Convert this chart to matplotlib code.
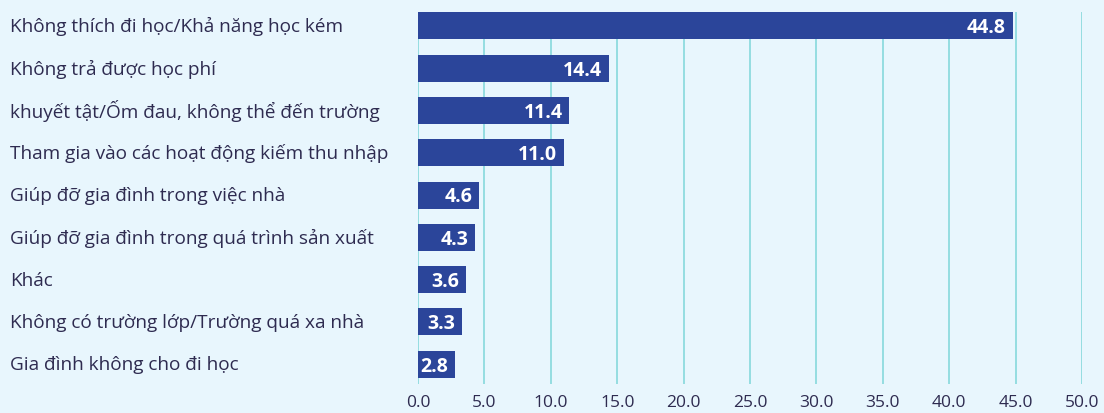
import matplotlib.pyplot as plt
import matplotlib.transforms as mtransforms

# data
categories = [
    "Không thích đi học/Khả năng học kém",
    "Không trả được học phí",
    "khuyết tật/Ốm đau, không thể đến trường",
    "Tham gia vào các hoạt động kiếm thu nhập",
    "Giúp đỡ gia đình trong việc nhà",
    "Giúp đỡ gia đình trong quá trình sản xuất",
    "Khác",
    "Không có trường lớp/Trường quá xa nhà",
    "Gia đình không cho đi học",
]
values = [44.8, 14.4, 11.4, 11.0, 4.6, 4.3, 3.6, 3.3, 2.8]
xticks = [0, 5, 10, 15, 20, 25, 30, 35, 40, 45, 50]

bg = "#e8f6fd"
bar_color = "#2b459a"
grid_color = "#86d8dc"
text_color = "#2e2b50"

plt.rcParams['font.family'] = ['Open Sans', 'DejaVu Sans']

fig = plt.figure(figsize=(11.04, 4.14), dpi=100, facecolor=bg)
ax = fig.add_axes([418 / 1104, 1 - 385 / 414, (1082 - 418) / 1104, (385 - 13) / 414])
ax.set_facecolor(bg)

pos = list(range(len(categories)))
ax.barh(pos, values, height=0.64, color=bar_color, zorder=3)

ax.set_xlim(0, 50)
ax.set_ylim(8.47, -0.33)
ax.set_xticks(xticks)
ax.set_xticklabels([f"{t:.1f}" for t in xticks], fontsize=12.5, color=text_color)
ax.set_yticks([])
ax.tick_params(axis='x', length=0, pad=7)
ax.grid(axis='x', color=grid_color, linewidth=1.2, zorder=0)
for s in ax.spines.values():
    s.set_visible(False)

trans = mtransforms.blended_transform_factory(fig.transFigure, ax.transData)
for p, cat in zip(pos, categories):
    ax.text(10 / 1104, p, cat, transform=trans, ha='left', va='center',
            fontsize=13.7, color=text_color)

for p, v in zip(pos, values):
    ax.annotate(f"{v:.1f}", xy=(v, p), xytext=(-5, -1), textcoords='offset points',
                ha='right', va='center', fontsize=14, fontweight='bold',
                color='white', zorder=4)

fig.savefig("out.png", dpi=100, facecolor=bg)
